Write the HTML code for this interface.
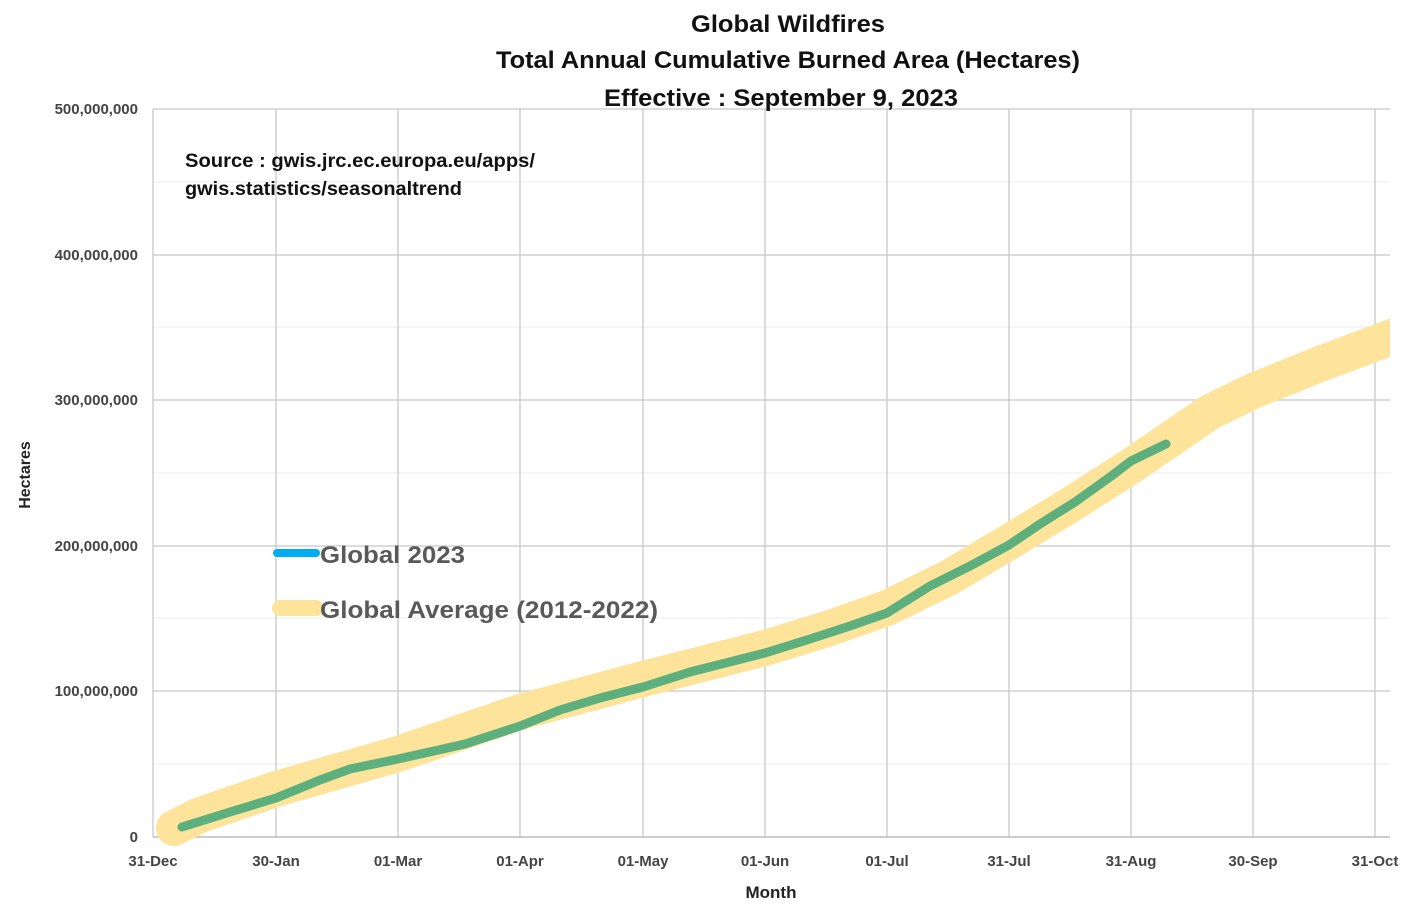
<!DOCTYPE html>
<html><head><meta charset="utf-8"><style>
body{margin:0;background:#fff;}
svg text{font-family:"Liberation Sans",sans-serif;}
</style></head><body>
<svg width="1405" height="908" xmlns="http://www.w3.org/2000/svg">
<defs><clipPath id="c"><rect x="0" y="100" width="1390" height="760"/></clipPath></defs>
<rect width="1405" height="908" fill="#fff"/>
<g stroke="#ececec" stroke-width="1">
<line x1="153" y1="182" x2="1390" y2="182"/><line x1="153" y1="327" x2="1390" y2="327"/>
<line x1="153" y1="473" x2="1390" y2="473"/><line x1="153" y1="618" x2="1390" y2="618"/>
<line x1="153" y1="764" x2="1390" y2="764"/>
</g>
<g stroke="#c8c8c8" stroke-width="1.3">
<line x1="153" y1="109" x2="1390" y2="109"/><line x1="153" y1="255" x2="1390" y2="255"/>
<line x1="153" y1="400" x2="1390" y2="400"/><line x1="153" y1="546" x2="1390" y2="546"/>
<line x1="153" y1="691" x2="1390" y2="691"/>
<line x1="153" y1="109" x2="153" y2="837"/><line x1="276" y1="109" x2="276" y2="837"/>
<line x1="398" y1="109" x2="398" y2="837"/><line x1="520" y1="109" x2="520" y2="837"/>
<line x1="643" y1="109" x2="643" y2="837"/><line x1="765" y1="109" x2="765" y2="837"/>
<line x1="887" y1="109" x2="887" y2="837"/><line x1="1009" y1="109" x2="1009" y2="837"/>
<line x1="1131" y1="109" x2="1131" y2="837"/><line x1="1253" y1="109" x2="1253" y2="837"/>
<line x1="1375" y1="109" x2="1375" y2="837"/>
</g>
<line x1="153" y1="837" x2="1390" y2="837" stroke="#bbb" stroke-width="1.5"/>
<polyline clip-path="url(#c)" fill="none" stroke="#fde49a" stroke-width="36" stroke-linejoin="round" stroke-linecap="round"
points="174,828 200,815 276,789 398,754 520,712 643,679 765,648 830,628 887,608 950,577 1009,542 1070,505 1131,466 1210,412 1253,391 1320,364 1400,334"/>
<polyline fill="none" stroke="#5daf7d" stroke-width="9" stroke-linejoin="round" stroke-linecap="round"
points="182,827 230,812 276,798 320,780 350,769 398,759 465,744 520,726 560,710 600,698 643,687 690,672 765,653 810,639 850,626 887,613 930,586 970,566 1009,545 1040,524 1075,502 1110,477 1131,461 1166,444"/>
<g font-size="15" font-weight="bold" fill="#444" text-anchor="end">
<text x="138" y="114">500,000,000</text><text x="138" y="260">400,000,000</text>
<text x="138" y="405">300,000,000</text><text x="138" y="551">200,000,000</text>
<text x="138" y="696">100,000,000</text><text x="138" y="842">0</text>
</g>
<g font-size="15" font-weight="bold" fill="#444" text-anchor="middle">
<text x="153" y="866">31-Dec</text><text x="276" y="866">30-Jan</text><text x="398" y="866">01-Mar</text>
<text x="520" y="866">01-Apr</text><text x="643" y="866">01-May</text><text x="765" y="866">01-Jun</text>
<text x="887" y="866">01-Jul</text><text x="1009" y="866">31-Jul</text><text x="1131" y="866">31-Aug</text>
<text x="1253" y="866">30-Sep</text><text x="1375" y="866">31-Oct</text>
<text x="771" y="898" font-size="17" fill="#222">Month</text>
</g>
<text transform="translate(30,475) rotate(-90)" font-size="16" font-weight="bold" fill="#222" text-anchor="middle">Hectares</text>
<g font-size="24" font-weight="bold" fill="#111" text-anchor="middle">
<text x="788" y="32" textLength="194" lengthAdjust="spacingAndGlyphs">Global Wildfires</text>
<text x="788" y="68" textLength="584" lengthAdjust="spacingAndGlyphs">Total Annual Cumulative Burned Area (Hectares)</text>
<text x="781" y="106" textLength="354" lengthAdjust="spacingAndGlyphs">Effective : September 9, 2023</text>
</g>
<g font-size="19" font-weight="bold" fill="#111">
<text x="185" y="167" textLength="350" lengthAdjust="spacingAndGlyphs">Source : gwis.jrc.ec.europa.eu/apps/</text>
<text x="185" y="195" textLength="277" lengthAdjust="spacingAndGlyphs">gwis.statistics/seasonaltrend</text>
</g>
<line x1="277" y1="553" x2="316" y2="553" stroke="#00aeef" stroke-width="8" stroke-linecap="round"/>
<line x1="280" y1="608" x2="316" y2="608" stroke="#fde49a" stroke-width="16" stroke-linecap="round"/>
<g font-size="24" font-weight="bold" fill="#595959">
<text x="320" y="563" textLength="145" lengthAdjust="spacingAndGlyphs">Global 2023</text>
<text x="320" y="618" textLength="338" lengthAdjust="spacingAndGlyphs">Global Average (2012-2022)</text>
</g>
</svg>
</body></html>
